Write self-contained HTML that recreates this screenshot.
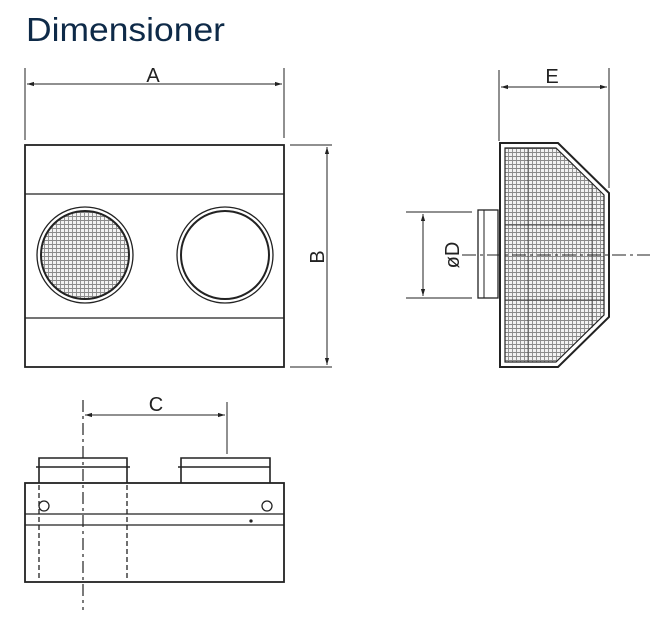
<!DOCTYPE html>
<html><head><style>html,body{margin:0;padding:0;background:#fff;}svg{display:block}</style></head>
<body>
<svg width="660" height="623" viewBox="0 0 660 623" xmlns="http://www.w3.org/2000/svg">
<defs>
<pattern id="mesh" width="4" height="4" patternUnits="userSpaceOnUse">
<rect width="4" height="4" fill="#f2f2f2"/>
<path d="M0 0.5H4M0.5 0V4" stroke="#8a8a8a" stroke-width="0.9"/>
</pattern>
<marker id="ar" viewBox="0 0 10 10" refX="10" refY="5" markerWidth="7" markerHeight="7" orient="auto-start-reverse"><path d="M0 2L10 5L0 8z" fill="#222"/></marker>
</defs>
<text x="26" y="41" font-family="Liberation Sans, sans-serif" font-size="33" fill="#0e2a48" textLength="199" lengthAdjust="spacingAndGlyphs">Dimensioner</text>
<g stroke="#222" fill="none" stroke-width="1.3">
<line x1="25" y1="68" x2="25" y2="140" stroke-width="1"/>
<line x1="284" y1="68" x2="284" y2="138" stroke-width="1"/>
<line x1="27" y1="84" x2="282" y2="84" stroke-width="1" marker-start="url(#ar)" marker-end="url(#ar)"/>
<rect x="25" y="145" width="259" height="222" stroke-width="1.8"/>
<line x1="25" y1="194" x2="284" y2="194"/>
<line x1="25" y1="318" x2="284" y2="318"/>
<circle cx="85" cy="255" r="48"/>
<circle cx="85" cy="255" r="44" fill="url(#mesh)" stroke-width="2"/>
<circle cx="225" cy="255" r="48"/>
<circle cx="225" cy="255" r="44" stroke-width="2"/>
<line x1="290" y1="145" x2="332" y2="145" stroke-width="1"/>
<line x1="290" y1="367" x2="332" y2="367" stroke-width="1"/>
<line x1="327" y1="147" x2="327" y2="365" stroke-width="1" marker-start="url(#ar)" marker-end="url(#ar)"/>
<line x1="499" y1="70" x2="499" y2="141" stroke-width="1"/>
<line x1="609" y1="68" x2="609" y2="188" stroke-width="1"/>
<line x1="501" y1="87" x2="607" y2="87" stroke-width="1" marker-start="url(#ar)" marker-end="url(#ar)"/>
<path d="M500 143H558L609 193V317L558 367H500Z" stroke-width="2"/>
<path d="M505 148H556L604 195V315L556 362H505Z" fill="url(#mesh)" stroke-width="1.2"/>
<line x1="505" y1="225" x2="604" y2="225" stroke-width="0.8"/>
<line x1="505" y1="300" x2="604" y2="300" stroke-width="0.8"/>
<line x1="528" y1="148" x2="528" y2="362" stroke-width="0.6"/>
<line x1="592" y1="183" x2="592" y2="328" stroke-width="0.6"/>
<rect x="478" y="210" width="20" height="88" fill="#fff"/>
<line x1="484" y1="210" x2="484" y2="298" stroke-width="1"/>
<line x1="406" y1="212" x2="472" y2="212" stroke-width="1"/>
<line x1="406" y1="298" x2="472" y2="298" stroke-width="1"/>
<line x1="423" y1="214" x2="423" y2="296" stroke-width="1" marker-start="url(#ar)" marker-end="url(#ar)"/>
<line x1="462" y1="255" x2="650" y2="255" stroke-width="1" stroke-dasharray="14 4 3 4"/>
<line x1="227" y1="402" x2="227" y2="454" stroke-width="1"/>
<line x1="85" y1="415" x2="225" y2="415" stroke-width="1" marker-start="url(#ar)" marker-end="url(#ar)"/>
<rect x="25" y="483" width="259" height="99" stroke-width="1.8"/>
<line x1="25" y1="514" x2="284" y2="514"/>
<line x1="25" y1="525" x2="284" y2="525"/>
<path d="M39 483V458H127V483" stroke-width="1.6"/>
<line x1="36" y1="467" x2="130" y2="467" stroke-width="1.6"/>
<path d="M181 483V458H270V483" stroke-width="1.6"/>
<line x1="178" y1="467" x2="270" y2="467" stroke-width="1.6"/>
<line x1="39" y1="485" x2="39" y2="580" stroke-width="1.3" stroke-dasharray="5 3"/>
<line x1="127" y1="485" x2="127" y2="580" stroke-width="1.3" stroke-dasharray="5 3"/>
<line x1="83" y1="400" x2="83" y2="610" stroke-width="1.2" stroke-dasharray="12 4 3 4"/>
<circle cx="44" cy="506" r="5"/>
<circle cx="267" cy="506" r="5"/>
<circle cx="251" cy="521" r="1" fill="#222"/>
</g>
<g font-family="Liberation Sans, sans-serif" font-size="20" fill="#222" text-anchor="middle">
<text x="153" y="82">A</text>
<text x="552" y="83">E</text>
<text x="156" y="411">C</text>
<text transform="translate(324,257) rotate(-90)">B</text>
<text transform="translate(459,255) rotate(-90)">øD</text>
</g>
</svg>
</body></html>
